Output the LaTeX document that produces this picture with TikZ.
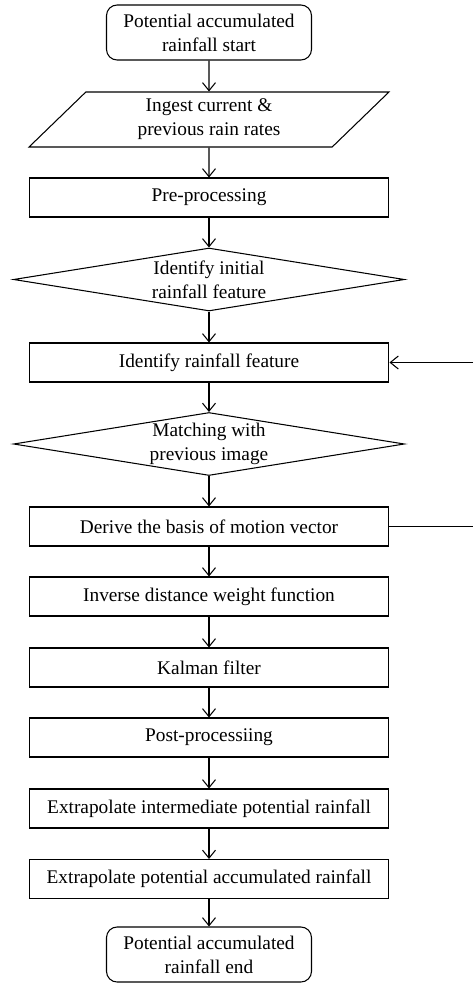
\documentclass[tikz,border=0pt]{standalone}
\usepackage{fontspec}
\setmainfont{Liberation Serif}
\usetikzlibrary{shapes.geometric,arrows.meta}
\tikzset{
base/.style={
  draw,
  line width=0.6pt,
  align=center,
  font=\fontsize{11}{13.6}\selectfont,
  inner sep=1pt
  },
process/.style={base, rectangle, minimum width=7.2cm, minimum height=0.78cm},
terminal/.style={base, rectangle, rounded corners=6pt, minimum width=4.1cm, minimum height=1.1cm},
io/.style={base, trapezium, trapezium left angle=38, trapezium right angle=142,
  trapezium stretches body, minimum width=7.2cm, minimum height=1.1cm},
decision/.style={base, diamond, aspect=6.2, minimum width=7.82cm, minimum height=1.26cm, inner sep=0pt},
flow/.style={line width=0.6pt, -{Straight Barb[length=1.6mm,width=2.6mm]}},
%link/.style={line width=0.6pt}
}

\begin{document}
\begin{tikzpicture}[x=0.02cm, y=-0.02cm]
    \useasboundingbox (0,0) rectangle (473,983);

    \node [terminal] (start)    at (209,32.5)  {Potential accumulated\\rainfall start};
    \node [io]       (ingest)   at (209,119.5) {Ingest current \&\\previous rain rates};
    \node [process]  (preproc)  at (209,197.5) {Pre-processing};
    \node [decision] (initfeat) at (209,279.5) {Identify initial\\rainfall feature};
    \node [process]  (feat)     at (209,362.5) {Identify rainfall feature};
    \node [decision] (match)    at (209,444)   {Matching with\\previous image};
    \node [process]  (derive)   at (209,526.5) {Derive the basis of motion vector};
    \node [process]  (idw)      at (209,596.5) {Inverse distance weight function};
    \node [process]  (kalman)   at (209,667.5) {Kalman filter};
    \node [process]  (postproc) at (209,737.5) {Post-processiing};
    \node [process]  (interp)   at (209,808.5) {Extrapolate intermediate potential rainfall};
    \node [process]  (accum)    at (209,879)   {Extrapolate potential accumulated rainfall};
    \node [terminal] (stop)     at (209,954.5) {Potential accumulated\\rainfall end};

    \coordinate (loopin)  at (473,362.5);
    \coordinate (loopout) at (473,526.5);

    \foreach \a/\b in {start/ingest, ingest/preproc, preproc/initfeat, initfeat/feat,
        feat/match, match/derive, derive/idw, idw/kalman, kalman/postproc,
        postproc/interp, interp/accum, accum/stop}
    {
        \draw [flow] (\a) -- (\b);
    }
    \draw [flow] (loopin) -- (feat);
    \draw [line width=0.6pt] (derive) -- (loopout);

\end{tikzpicture}
\end{document}
